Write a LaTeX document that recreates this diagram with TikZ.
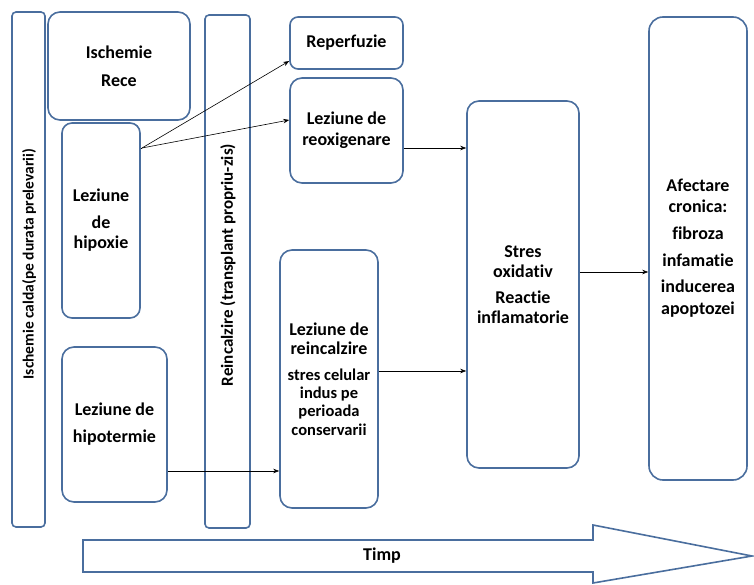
\documentclass[tikz,border=0pt]{standalone}
\usepackage{fontspec}
\setmainfont{Carlito}[Ligatures={NoCommon}]
\usetikzlibrary{arrows.meta}
\definecolor{edge}{HTML}{4A6E9E}
\tikzset{
  box/.style={draw=edge, line width=1.6pt, rounded corners=#1, fill=white,
    inner sep=0pt, align=center, font=\bfseries\fontsize{18}{22}\selectfont},
  box/.default=10pt,
  link/.style={draw=black, line width=0.6pt, -{Stealth[length=6pt,width=4.5pt]}},
  vlabel/.style={rotate=90, font=\bfseries\fontsize{#1}{18}\selectfont}
}
\newcommand\subtext[1]{{\fontsize{16.5}{18}\selectfont #1}}
\begin{document}
\begin{tikzpicture}[x=1pt,y=-1pt]
\useasboundingbox (0,0) rectangle (754,585);

% tall phase bars
\node[box=4pt, minimum width=33pt, minimum height=515pt] (calda) at (28.5,269.5) {};
\node[vlabel=15.5] at (29,264) {Ischemie calda(pe durata prelevarii)};
\node[box=4pt, minimum width=45pt, minimum height=513pt] (reinc) at (227.5,271.5) {};
\node[vlabel=17] at (228,265) {Reincalzire (transplant propriu-zis)};

% first column
\node[box=12pt, minimum width=142pt, minimum height=108pt] (rece) at (119,66) {Ischemie\\[6pt]Rece};
\node[box=10pt, minimum width=78pt, minimum height=195pt] (hipoxie) at (101,220.5) {Leziune\\[5pt]de\\[-2pt]hipoxie};
\node[box=12pt, minimum width=105pt, minimum height=155pt] (hipoterm) at (114.5,424.5) {Leziune de\\[5pt]hipotermie};

% second column
\node[box=8pt, minimum width=113pt, minimum height=52pt] (reperf) at (346.5,43) {Reperfuzie};
\node[box=12pt, minimum width=113pt, minimum height=105pt] (reoxi) at (346.5,130.5) {Leziune de\\[-1pt]reoxigenare};
\node[box=12pt, minimum width=98pt, minimum height=258pt] (reincalz) at (329,379) {Leziune de\\[-3pt]reincalzire\\[4pt]
  \subtext{stres celular}\\[-4pt]\subtext{indus pe}\\[-4pt]\subtext{perioada}\\[-3pt]\subtext{conservarii}};

% outcomes
\node[box=12pt, minimum width=112pt, minimum height=367pt] (stres) at (523,284.5) {Stres\\[-2pt]oxidativ\\[4pt]Reactie\\[-2pt]inflamatorie};
\node[box=14pt, minimum width=98pt, minimum height=463pt] (afect) at (698,248.5) {Afectare\\[-1pt]cronica:\\[5pt]fibroza\\[5pt]infamatie\\[4pt]inducerea\\[0pt]apoptozei};

% connectors
\coordinate (hx) at (142,148);
\draw[line width=0.6pt] (hipoxie.east |- hx) -- (hx);
\draw[link] (hx) -- (reperf.west |- 0,61);
\draw[link] (hx) -- (reoxi.west |- 0,120);
\draw[link] (reoxi.east |- 0,148) -- (stres.west |- 0,148);
\draw[link] (hipoterm.east |- 0,471) -- (reincalz.west |- 0,471);
\draw[link] (reincalz.east |- 0,371) -- (stres.west |- 0,371);
\draw[link] (stres.east |- 0,272) -- (afect.west |- 0,272);

% time arrow
\draw[edge, line width=1.6pt, line join=miter, fill=white]
  (83,540) -- (593,540) -- (593,525) -- (752,556) -- (593,583) -- (593,572) -- (83,572) -- cycle;
\node[font=\bfseries\fontsize{18}{22}\selectfont] (timp) at (382,556) {Timp};
\end{tikzpicture}
\end{document}
